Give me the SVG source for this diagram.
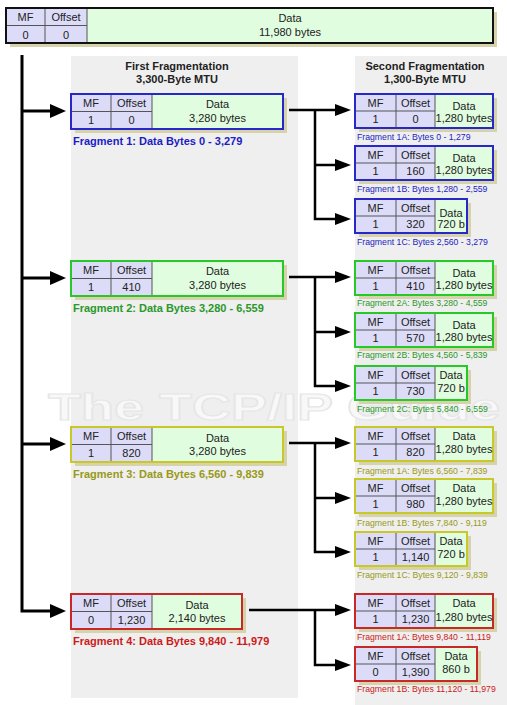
<svg xmlns="http://www.w3.org/2000/svg" width="507" height="705" viewBox="0 0 507 705">
<defs>
<style>
.pn{fill:#efefef}
.sh{fill:#d6d2ac}
.lav{fill:#dcdcf8}
.grn{fill:#e0fde0}
.dv{stroke:#555;stroke-width:1;fill:none}
.ob{fill:none;stroke-width:2}
.t{font-family:"Liberation Sans",Arial,sans-serif;font-size:11px;fill:#222;text-anchor:middle}
.tt{font-family:"Liberation Sans",Arial,sans-serif;font-size:11px;font-weight:bold;fill:#222;text-anchor:middle}
.lb{font-family:"Liberation Sans",Arial,sans-serif;font-size:11px;font-weight:bold}
.sl{font-family:"Liberation Sans",Arial,sans-serif;font-size:8.7px}
.b{stroke:#2828c8}.g{stroke:#28c828}.y{stroke:#c8c828}.r{stroke:#c82828}
.fb{fill:#1c1cc4}.fg{fill:#2a982a}.fy{fill:#999918}.fr{fill:#cc1a1a}
.cn{fill:none;stroke:#000;stroke-width:3}
.cs{fill:none;stroke:#000;stroke-width:2.5}
.wm{font-family:"Liberation Sans",Arial,sans-serif;font-size:37px;font-weight:bold;fill:#f8f8f8;stroke:#e6e6e6;stroke-width:1.2}
</style>
<marker id="am" markerUnits="userSpaceOnUse" markerWidth="17" markerHeight="16" refX="0" refY="8" orient="auto"><path d="M0,1 L16,8 L0,15 z" fill="#000"/></marker>
<marker id="as" markerUnits="userSpaceOnUse" markerWidth="17" markerHeight="14" refX="0" refY="7" orient="auto"><path d="M0,1 L16,7 L0,13 z" fill="#000"/></marker>
</defs>
<rect x="0" y="0" width="507" height="705" fill="#fff"/>
<g id="panels">
<rect class="pn" x="71" y="56" width="227" height="642"/>
<rect class="pn" x="355" y="56" width="152" height="649"/>
<text class="tt" x="177" y="70">First Fragmentation</text>
<text class="tt" x="177" y="83">3,300-Byte MTU</text>
<text class="tt" x="425" y="70">Second Fragmentation</text>
<text class="tt" x="425" y="83">1,300-Byte MTU</text>
</g>
<text class="wm" x="48" y="420" textLength="452" lengthAdjust="spacingAndGlyphs">The TCP/IP Guide</text>
<g id="original">
<rect class="sh" x="10" y="12" width="487" height="35"/>
<rect class="lav" x="6" y="8" width="81" height="35"/>
<rect class="grn" x="87" y="8" width="406" height="35"/>
<path class="dv" d="M45,8V43M87,8V43M6,25.5H87"/>
<rect class="ob" x="6" y="8" width="487" height="35" style="stroke:#111"/>
<text class="t" x="25.5" y="21">MF</text><text class="t" x="66" y="21">Offset</text>
<text class="t" x="25.5" y="39">0</text><text class="t" x="66" y="39">0</text>
<text class="t" x="290" y="22">Data</text><text class="t" x="290" y="36">11,980 bytes</text>
</g>
<g id="connectors">
<path class="cn" d="M22,55V611H50" marker-end="url(#am)"/>
<path class="cn" d="M22,111H50" marker-end="url(#am)"/>
<path class="cn" d="M22,278H50" marker-end="url(#am)"/>
<path class="cn" d="M22,444H50" marker-end="url(#am)"/>
<path class="cs" d="M289,110H335" marker-end="url(#as)"/>
<path class="cs" d="M315,110V219H335" marker-end="url(#as)"/>
<path class="cs" d="M315,165H335" marker-end="url(#as)"/>
<path class="cs" d="M289,277H335" marker-end="url(#as)"/>
<path class="cs" d="M315,277V386H335" marker-end="url(#as)"/>
<path class="cs" d="M315,332H335" marker-end="url(#as)"/>
<path class="cs" d="M289,443H335" marker-end="url(#as)"/>
<path class="cs" d="M315,443V552H335" marker-end="url(#as)"/>
<path class="cs" d="M315,498H335" marker-end="url(#as)"/>
<path class="cs" d="M249,610H335" marker-end="url(#as)"/>
<path class="cs" d="M315,610V665H335" marker-end="url(#as)"/>
</g>
<g id="frag1" transform="translate(0,94)">
<rect class="sh" x="75" y="4" width="212" height="35"/>
<rect class="lav" x="71" y="0" width="81" height="35"/><rect class="grn" x="152" y="0" width="131" height="35"/>
<path class="dv" d="M111,0V35M152,0V35M71,17.5H152"/><rect class="ob b" x="71" y="0" width="212" height="35"/>
<text class="t" x="91" y="13">MF</text><text class="t" x="131.5" y="13">Offset</text>
<text class="t" x="91" y="30">1</text><text class="t" x="131.5" y="30">0</text>
<text class="t" x="217.5" y="14">Data</text><text class="t" x="217.5" y="28">3,280 bytes</text>
<text class="lb fb" x="73" y="51">Fragment 1: Data Bytes 0 - 3,279</text>
</g>
<g id="frag1a" transform="translate(355,94)">
<rect class="sh" x="4" y="4" width="138" height="34"/>
<rect class="lav" x="0" y="0" width="80" height="34"/><rect class="grn" x="80" y="0" width="58" height="34"/>
<path class="dv" d="M41,0V34M80,0V34M0,17H80"/><rect class="ob b" x="0" y="0" width="138" height="34"/>
<text class="t" x="20.5" y="12.5">MF</text><text class="t" x="60.5" y="12.5">Offset</text>
<text class="t" x="20.5" y="29">1</text><text class="t" x="60.5" y="29">0</text>
<text class="t" x="109" y="16">Data</text><text class="t" x="109" y="28">1,280 bytes</text>
<text class="sl fb" x="2" y="46">Fragment 1A: Bytes 0 - 1,279</text>
</g>
<g id="frag1b" transform="translate(355,146)">
<rect class="sh" x="4" y="4" width="138" height="34"/>
<rect class="lav" x="0" y="0" width="80" height="34"/><rect class="grn" x="80" y="0" width="58" height="34"/>
<path class="dv" d="M41,0V34M80,0V34M0,17H80"/><rect class="ob b" x="0" y="0" width="138" height="34"/>
<text class="t" x="20.5" y="12.5">MF</text><text class="t" x="60.5" y="12.5">Offset</text>
<text class="t" x="20.5" y="29">1</text><text class="t" x="60.5" y="29">160</text>
<text class="t" x="109" y="16">Data</text><text class="t" x="109" y="28">1,280 bytes</text>
<text class="sl fb" x="2" y="46">Fragment 1B: Bytes 1,280 - 2,559</text>
</g>
<g id="frag1c" transform="translate(355,199)">
<rect class="sh" x="4" y="4" width="112" height="34"/>
<rect class="lav" x="0" y="0" width="80" height="34"/><rect class="grn" x="80" y="0" width="32" height="34"/>
<path class="dv" d="M41,0V34M80,0V34M0,17H80"/><rect class="ob b" x="0" y="0" width="112" height="34"/>
<text class="t" x="20.5" y="12.5">MF</text><text class="t" x="60.5" y="12.5">Offset</text>
<text class="t" x="20.5" y="29">1</text><text class="t" x="60.5" y="29">320</text>
<text class="t" x="96" y="18">Data</text><text class="t" x="96" y="29">720 b</text>
<text class="sl fb" x="2" y="46">Fragment 1C: Bytes 2,560 - 3,279</text>
</g>
<g id="frag2" transform="translate(0,261)">
<rect class="sh" x="75" y="4" width="212" height="35"/>
<rect class="lav" x="71" y="0" width="81" height="35"/><rect class="grn" x="152" y="0" width="131" height="35"/>
<path class="dv" d="M111,0V35M152,0V35M71,17.5H152"/><rect class="ob g" x="71" y="0" width="212" height="35"/>
<text class="t" x="91" y="13">MF</text><text class="t" x="131.5" y="13">Offset</text>
<text class="t" x="91" y="30">1</text><text class="t" x="131.5" y="30">410</text>
<text class="t" x="217.5" y="14">Data</text><text class="t" x="217.5" y="28">3,280 bytes</text>
<text class="lb fg" x="73" y="51">Fragment 2: Data Bytes 3,280 - 6,559</text>
</g>
<g id="frag2a" transform="translate(355,261)">
<rect class="sh" x="4" y="4" width="138" height="34"/>
<rect class="lav" x="0" y="0" width="80" height="34"/><rect class="grn" x="80" y="0" width="58" height="34"/>
<path class="dv" d="M41,0V34M80,0V34M0,17H80"/><rect class="ob g" x="0" y="0" width="138" height="34"/>
<text class="t" x="20.5" y="12.5">MF</text><text class="t" x="60.5" y="12.5">Offset</text>
<text class="t" x="20.5" y="29">1</text><text class="t" x="60.5" y="29">410</text>
<text class="t" x="109" y="16">Data</text><text class="t" x="109" y="28">1,280 bytes</text>
<text class="sl fg" x="2" y="45">Fragment 2A: Bytes 3,280 - 4,559</text>
</g>
<g id="frag2b" transform="translate(355,313)">
<rect class="sh" x="4" y="4" width="138" height="34"/>
<rect class="lav" x="0" y="0" width="80" height="34"/><rect class="grn" x="80" y="0" width="58" height="34"/>
<path class="dv" d="M41,0V34M80,0V34M0,17H80"/><rect class="ob g" x="0" y="0" width="138" height="34"/>
<text class="t" x="20.5" y="12.5">MF</text><text class="t" x="60.5" y="12.5">Offset</text>
<text class="t" x="20.5" y="29">1</text><text class="t" x="60.5" y="29">570</text>
<text class="t" x="109" y="16">Data</text><text class="t" x="109" y="28">1,280 bytes</text>
<text class="sl fg" x="2" y="45">Fragment 2B: Bytes 4,560 - 5,839</text>
</g>
<g id="frag2c" transform="translate(355,366)">
<rect class="sh" x="4" y="4" width="112" height="34"/>
<rect class="lav" x="0" y="0" width="80" height="34"/><rect class="grn" x="80" y="0" width="32" height="34"/>
<path class="dv" d="M41,0V34M80,0V34M0,17H80"/><rect class="ob g" x="0" y="0" width="112" height="34"/>
<text class="t" x="20.5" y="12.5">MF</text><text class="t" x="60.5" y="12.5">Offset</text>
<text class="t" x="20.5" y="29">1</text><text class="t" x="60.5" y="29">730</text>
<text class="t" x="96" y="13">Data</text><text class="t" x="96" y="26">720 b</text>
<text class="sl fg" x="2" y="46">Fragment 2C: Bytes 5,840 - 6,559</text>
</g>
<g id="frag3" transform="translate(0,427)">
<rect class="sh" x="75" y="4" width="212" height="35"/>
<rect class="lav" x="71" y="0" width="81" height="35"/><rect class="grn" x="152" y="0" width="131" height="35"/>
<path class="dv" d="M111,0V35M152,0V35M71,17.5H152"/><rect class="ob y" x="71" y="0" width="212" height="35"/>
<text class="t" x="91" y="13">MF</text><text class="t" x="131.5" y="13">Offset</text>
<text class="t" x="91" y="30">1</text><text class="t" x="131.5" y="30">820</text>
<text class="t" x="217.5" y="15">Data</text><text class="t" x="217.5" y="28">3,280 bytes</text>
<text class="lb fy" x="73" y="51">Fragment 3: Data Bytes 6,560 - 9,839</text>
</g>
<g id="frag3a" transform="translate(355,427)">
<rect class="sh" x="4" y="4" width="138" height="34"/>
<rect class="lav" x="0" y="0" width="80" height="34"/><rect class="grn" x="80" y="0" width="58" height="34"/>
<path class="dv" d="M41,0V34M80,0V34M0,17H80"/><rect class="ob y" x="0" y="0" width="138" height="34"/>
<text class="t" x="20.5" y="12.5">MF</text><text class="t" x="60.5" y="12.5">Offset</text>
<text class="t" x="20.5" y="29">1</text><text class="t" x="60.5" y="29">820</text>
<text class="t" x="109" y="13">Data</text><text class="t" x="109" y="26">1,280 bytes</text>
<text class="sl fy" x="2" y="47">Fragment 1A: Bytes 6,560 - 7,839</text>
</g>
<g id="frag3b" transform="translate(355,479)">
<rect class="sh" x="4" y="4" width="138" height="34"/>
<rect class="lav" x="0" y="0" width="80" height="34"/><rect class="grn" x="80" y="0" width="58" height="34"/>
<path class="dv" d="M41,0V34M80,0V34M0,17H80"/><rect class="ob y" x="0" y="0" width="138" height="34"/>
<text class="t" x="20.5" y="12.5">MF</text><text class="t" x="60.5" y="12.5">Offset</text>
<text class="t" x="20.5" y="29">1</text><text class="t" x="60.5" y="29">980</text>
<text class="t" x="109" y="13">Data</text><text class="t" x="109" y="26">1,280 bytes</text>
<text class="sl fy" x="2" y="47">Fragment 1B: Bytes 7,840 - 9,119</text>
</g>
<g id="frag3c" transform="translate(355,532)">
<rect class="sh" x="4" y="4" width="112" height="34"/>
<rect class="lav" x="0" y="0" width="80" height="34"/><rect class="grn" x="80" y="0" width="32" height="34"/>
<path class="dv" d="M41,0V34M80,0V34M0,17H80"/><rect class="ob y" x="0" y="0" width="112" height="34"/>
<text class="t" x="20.5" y="12.5">MF</text><text class="t" x="60.5" y="12.5">Offset</text>
<text class="t" x="20.5" y="29">1</text><text class="t" x="60.5" y="29">1,140</text>
<text class="t" x="96" y="13">Data</text><text class="t" x="96" y="26">720 b</text>
<text class="sl fy" x="2" y="46">Fragment 1C: Bytes 9,120 - 9,839</text>
</g>
<g id="frag4" transform="translate(0,594)">
<rect class="sh" x="75" y="4" width="171" height="35"/>
<rect class="lav" x="71" y="0" width="81" height="35"/><rect class="grn" x="152" y="0" width="90" height="35"/>
<path class="dv" d="M111,0V35M152,0V35M71,17.5H152"/><rect class="ob r" x="71" y="0" width="171" height="35"/>
<text class="t" x="91" y="13">MF</text><text class="t" x="131.5" y="13">Offset</text>
<text class="t" x="91" y="30">0</text><text class="t" x="131.5" y="30">1,230</text>
<text class="t" x="197" y="15">Data</text><text class="t" x="197" y="28">2,140 bytes</text>
<text class="lb fr" x="73" y="51">Fragment 4: Data Bytes 9,840 - 11,979</text>
</g>
<g id="frag4a" transform="translate(355,594)">
<rect class="sh" x="4" y="4" width="138" height="34"/>
<rect class="lav" x="0" y="0" width="80" height="34"/><rect class="grn" x="80" y="0" width="58" height="34"/>
<path class="dv" d="M41,0V34M80,0V34M0,17H80"/><rect class="ob r" x="0" y="0" width="138" height="34"/>
<text class="t" x="20.5" y="12.5">MF</text><text class="t" x="60.5" y="12.5">Offset</text>
<text class="t" x="20.5" y="29">1</text><text class="t" x="60.5" y="29">1,230</text>
<text class="t" x="109" y="13">Data</text><text class="t" x="109" y="27">1,280 bytes</text>
<text class="sl fr" x="2" y="46">Fragment 1A: Bytes 9,840 - 11,119</text>
</g>
<g id="frag4b" transform="translate(355,647)">
<rect class="sh" x="4" y="4" width="122" height="34"/>
<rect class="lav" x="0" y="0" width="80" height="34"/><rect class="grn" x="80" y="0" width="42" height="34"/>
<path class="dv" d="M41,0V34M80,0V34M0,17H80"/><rect class="ob r" x="0" y="0" width="122" height="34"/>
<text class="t" x="20.5" y="12.5">MF</text><text class="t" x="60.5" y="12.5">Offset</text>
<text class="t" x="20.5" y="29">0</text><text class="t" x="60.5" y="29">1,390</text>
<text class="t" x="101" y="13">Data</text><text class="t" x="101" y="26">860 b</text>
<text class="sl fr" x="2" y="45">Fragment 1B: Bytes 11,120 - 11,979</text>
</g>
</svg>
